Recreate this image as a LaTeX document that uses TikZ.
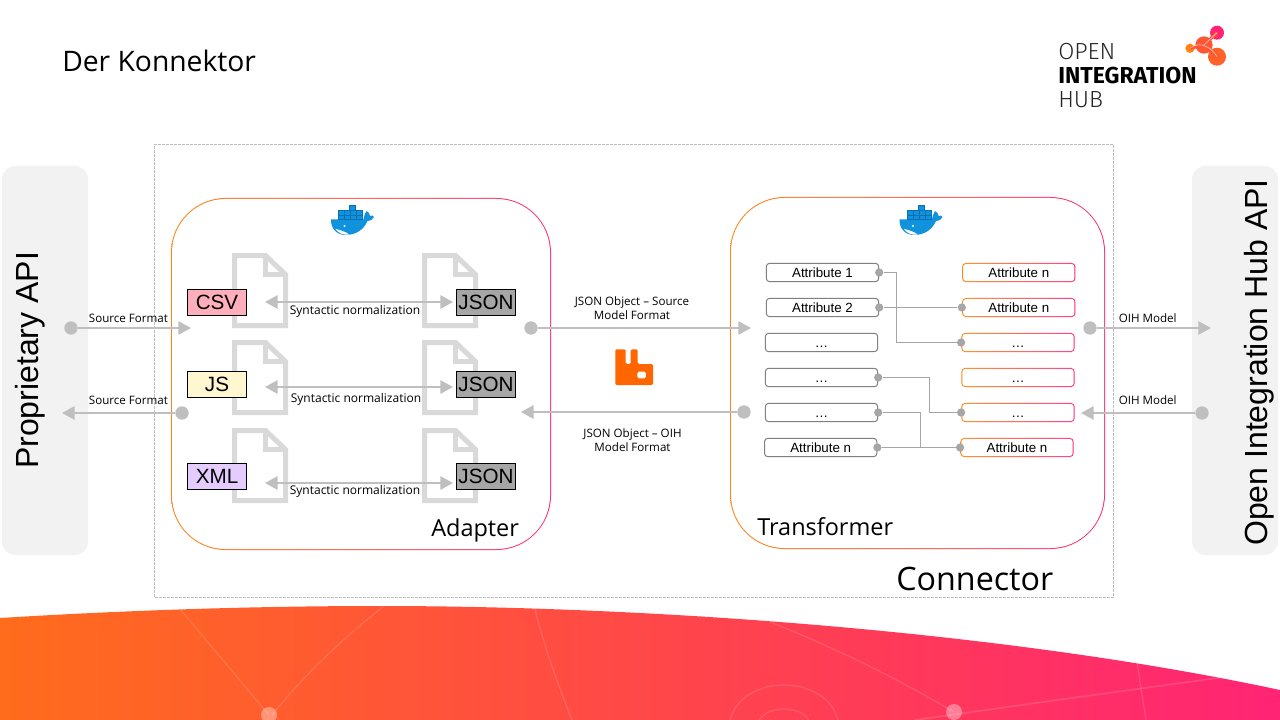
\documentclass[tikz,border=0pt]{standalone}
\usepackage{fontspec}
\setmainfont{Liberation Sans}
\newfontfamily\ui{Open Sans}
\newfontfamily\lgfont{Fira Sans}
\newfontfamily\lgthin{Fira Sans Light}
\usetikzlibrary{arrows.meta,shapes.geometric}
\definecolor{gA}{HTML}{FF8412}
\definecolor{gB}{HTML}{FF2A78}
\definecolor{bA}{HTML}{FF6C1C}
\definecolor{bB}{HTML}{FF2474}
\definecolor{arr}{HTML}{BFBFBF}
\definecolor{wire}{HTML}{A6A6A6}
\definecolor{panel}{HTML}{F2F2F2}
\definecolor{filec}{HTML}{D9D9D9}
\definecolor{dk}{HTML}{1092DC}
\definecolor{dkb}{HTML}{0A6FB5}
\definecolor{rabbitc}{HTML}{FF6600}
\tikzset{
 paneln/.style={fill=panel,rounded corners=10pt,minimum width=64.5pt,minimum height=291.75pt,inner sep=0},
 bigtext/.style={font=\fontsize{24}{24}\selectfont,rotate=90,anchor=base,inner sep=0},
 conbox/.style={draw=arr,line width=.5pt,dash pattern=on .6pt off .4pt},
 contout/.style={left color=gA,right color=gB,rounded corners=41pt,minimum width=285pt,minimum height=264pt,inner sep=0},
 contin/.style={fill=white,rounded corners=40.2pt,minimum width=283.5pt,minimum height=262.5pt,inner sep=0},
 heading/.style={font=\ui\fontsize{17.6}{17.6}\selectfont,anchor=base west,inner sep=0},
 filei/.style={draw=filec,line width=3.75pt,miter limit=10},
 fmt/.style={draw=black,line width=.75pt,minimum width=44.25pt,minimum height=19.75pt,inner sep=0,font=\fontsize{15.5}{15.5}\selectfont},
 lab/.style={font=\ui\fontsize{8.7}{8.7}\selectfont,inner sep=0,align=center},
 synlab/.style={font=\ui\fontsize{9}{9}\selectfont,inner sep=0},
 flow/.style={draw=arr,line width=1.5pt,-{Triangle[width=10pt,length=9.5pt]}},
 flowb/.style={draw=arr,line width=1.5pt,{Triangle[width=10pt,length=9.5pt]}-{Triangle[width=10pt,length=9.5pt]}},
 bigdot/.style={circle,fill=arr,minimum size=10pt,inner sep=0},
 attl/.style={draw=black!50,line width=.75pt,fill=white,rounded corners=2.5pt,minimum width=84.3pt,minimum height=13.8pt,inner sep=0,font=\fontsize{10}{10}\selectfont,text height=7.2pt,text depth=0pt},
 atto/.style={left color=gA,right color=gB,rounded corners=2.8pt,minimum width=85pt,minimum height=14.3pt,inner sep=0},
 atti/.style={fill=white,rounded corners=2.2pt,minimum width=83.5pt,minimum height=12.8pt,inner sep=0,font=\fontsize{10}{10}\selectfont,text height=7.2pt,text depth=0pt},
 smalldot/.style={circle,fill=wire,minimum size=6.2pt,inner sep=0},
 wireline/.style={draw=wire,line width=.75pt},
 docfile/.pic={
  \draw[filei] (2.5,2.5) -- (33.5,2.5) -- (53.5,21.5) -- (53.5,72.5) -- (2.5,72.5) -- cycle;
  \draw[filei] (33.5,2.5) -- (33.5,21.5) -- (53.5,21.5);
 },
 whale/.pic={
  \fill[dk] (.6,14.5) -- (33,14.5) .. controls (33.6,11) and (34.2,8.5) .. (36,6) .. controls (38,7) and (39.6,9) .. (39.6,11) .. controls (41,10) and (43,10.4) .. (43.5,12.2) .. controls (42,15) and (39.5,16) .. (37,16) .. controls (33,25) and (25,30) .. (15,30) .. controls (6,30) and (0,23) .. (.6,14.5) -- cycle;
  \fill[white] (5,24) .. controls (9,25) and (14,26) .. (19,29.6) .. controls (12,30.4) and (8,28) .. (5,24) -- cycle;
  \fill[white] (14,21) circle (1.2);
  \foreach \x/\y in {8/5,14/5,20/5,26/5,8/9.7,14/9.7,20/9.7,26/9.7,19/.2}{
   \fill[dk,draw=dkb,line width=.2pt] (\x,\y) rectangle (\x+6,\y+4.7);
  }
 },
}
\begin{document}
\begin{tikzpicture}[x=.75pt,y=-.75pt]
\useasboundingbox (0,0) rectangle (1280,720);
% bottom band
\begin{scope}
\clip (0,618) .. controls (130,610) and (260,606) .. (380,606) .. controls (640,606) and (1000,630) .. (1280,690) -- (1280,720) -- (0,720) -- cycle;
\shade[left color=bA,right color=bB] (0,600) rectangle (1280,720);
\begin{scope}[draw=white,draw opacity=.14,line width=.9pt]
\draw (269,715) -- (180,609);
\draw (272,715) .. controls (300,680) and (340,640) .. (384,606);
\draw (535,609) .. controls (545,650) and (560,690) .. (572,720);
\draw (770,622) .. controls (840,650) and (900,680) .. (954,712);
\draw (1137,662) -- (1146,720);
\draw[line width=1.2pt] (915,720) .. controls (1020,705) and (1130,690) .. (1225,677);
\draw (784,725) ellipse (54 and 40);
\draw (784,725) ellipse (26 and 16);
\end{scope}
\fill[white,opacity=.35] (269,715) ellipse (8 and 8);
\fill[white,opacity=.35] (954,712) ellipse (8 and 8);
\end{scope}
% title
\node[font=\ui\fontsize{21.2}{21.2}\selectfont,anchor=base west,inner sep=0] (title) at (62,72) {Der Konnektor};
% logo
\node[font=\lgthin\fontsize{17.5}{17.5}\selectfont,anchor=base west,inner sep=0,text=black!85] (lo1) at (1058,59.5) {OPEN};
\node[font=\lgfont\bfseries\fontsize{17.3}{17.3}\selectfont,anchor=base west,inner sep=0] (lo2) at (1058,83.5) {INTEGRATION};
\node[font=\lgthin\fontsize{17.5}{17.5}\selectfont,anchor=base west,inner sep=0,text=black!85] (lo3) at (1058,107.5) {HUB};
\node[circle,fill=bB,minimum size=10.5pt,inner sep=0] (lc1) at (1217,32.7) {};
\node[circle,fill=bA!85!bB,minimum size=13.5pt,inner sep=0] (lc2) at (1217,56.7) {};
\node[circle,fill=gA,minimum size=7pt,inner sep=0] (lc3) at (1190,48.3) {};
\node[circle,fill=bA!70!bB,minimum size=13pt,inner sep=0] (lc4) at (1204,45) {};
\draw[bA!70!bB,line width=2.4pt] (lc3.center) -- (lc4.center) -- (lc1.center);
\draw[bA!70!bB,line width=2.4pt] (lc4.center) -- (lc2.center);
\draw[white,line width=.35pt,opacity=.8] (lc3.center) .. controls (1200,40) and (1212,48) .. (lc2.center);
\draw[white,line width=.35pt,opacity=.8] (lc4.center) -- (lc1.center);
% side panels
\node[paneln] (pl) at (45,360.5) {};
\node[paneln] (pr) at (1235,360.5) {};
\node[bigtext] (plt) at (38,360.5) {Proprietary API};
\node[bigtext] (prt) at (1267,362.5) {Open Integration Hub API};
% connector frame
\draw[conbox] (154.5,144.5) rectangle (1113.5,597.5);
\node[font=\ui\fontsize{24.2}{24.2}\selectfont,anchor=base west,inner sep=0] (conn) at (896,590) {Connector};
% containers
\node[contout] (ad) at (361,374) {};
\node[contin] (adi) at (ad) {};
\node[contout,minimum width=281.25pt] (tr) at (917.5,373) {};
\node[contin,minimum width=279.75pt] (tri) at (tr) {};
\node[heading] (adt) at (431,536) {Adapter};
\node[heading] (trt) at (757,535) {Transformer};
\pic at (330.5,205) {whale};
\pic at (899,205) {whale};
% files
\foreach \x in {232,422}{
 \foreach \y in {253,340,428}{
  \pic at (\x,\y) {docfile};
 }
}
% format boxes
\node[fmt,fill={rgb,255:red,255;green,174;blue,187}] (csv) at (217,302.5) {CSV};
\node[fmt,fill={rgb,255:red,255;green,247;blue,208}] (js) at (217,384.5) {JS};
\node[fmt,fill={rgb,255:red,228;green,204;blue,255}] (xml) at (217,476.5) {XML};
\node[fmt,fill=wire] (j1) at (486,302.3) {JSON};
\node[fmt,fill=wire] (j2) at (486,384.3) {JSON};
\node[fmt,fill=wire] (j3) at (486,476.5) {JSON};
% syntactic arrows
\coordinate (s1a) at (265,302); \coordinate (s1b) at (453,302);
\coordinate (s2a) at (265,387); \coordinate (s2b) at (453,387);
\coordinate (s3a) at (265,483); \coordinate (s3b) at (453,483);
\draw[flowb] (s1a) -- (s1b);
\draw[flowb] (s2a) -- (s2b);
\draw[flowb] (s3a) -- (s3b);
\node[synlab] (sl1) at (355,311) {Syntactic normalization};
\node[synlab] (sl2) at (356,399.5) {Syntactic normalization};
\node[synlab] (sl3) at (355,491) {Syntactic normalization};
% flows
\node[bigdot] (a1) at (71,328) {}; \coordinate (a2) at (191,328);
\draw[flow] (a1) -- (a2);
\node[bigdot] (b1) at (182,413) {}; \coordinate (b2) at (62,413);
\draw[flow] (b1) -- (b2);
\node[bigdot] (c1) at (531,328) {}; \coordinate (c2) at (751,328);
\draw[flow] (c1) -- (c2);
\node[bigdot] (e1) at (744,412) {}; \coordinate (e2) at (521,412);
\draw[flow] (e1) -- (e2);
\node[bigdot] (f1) at (1090,328) {}; \coordinate (f2) at (1211,328);
\draw[flow] (f1) -- (f2);
\node[bigdot] (g1) at (1202,413) {}; \coordinate (g2) at (1081,413);
\draw[flow] (g1) -- (g2);
\node[lab] (al1) at (128.5,318) {Source Format};
\node[lab] (al2) at (128.5,400) {Source Format};
\node[lab] (cl1) at (632,308) {JSON Object – Source\\[2.2pt]Model Format};
\node[lab] (cl2) at (632.5,440) {JSON Object – OIH\\[2.2pt]Model Format};
\node[lab] (fl1) at (1147.7,318) {OIH Model};
\node[lab] (fl2) at (1147.7,400) {OIH Model};
% rabbit
\fill[rabbitc,even odd rule,rounded corners=1pt] (615.3,349.3) -- (625.7,349.3) -- (625.7,364) -- (630.7,364) -- (630.7,349.3) -- (637.7,349.3) -- (637.7,364) -- (653,364) -- (653,385) -- (615.3,385) -- cycle (637.3,371.7) -- (646,371.7) -- (646,378.3) -- (637.3,378.3) -- cycle;
% attributes left
\node[attl] (l1) at (822.5,272.5) {Attribute 1};
\node[attl] (l2) at (822.5,307.5) {Attribute 2};
\node[attl] (l3) at (821.5,342.5) {…};
\node[attl] (l4) at (821.5,377.5) {…};
\node[attl] (l5) at (821.5,412.5) {…};
\node[attl] (l6) at (820.7,447.5) {Attribute n};
% attributes right
\foreach \n/\x/\y/\t in {r1/1018.8/272.5/Attribute n,r2/1018.8/307.5/Attribute n,r3/1018/342.5/…,r4/1018/377.5/…,r5/1018/412.5/…,r6/1017/447.5/Attribute n}{
 \node[atto] (\n o) at (\x,\y) {};
 \node[atti] (\n) at (\x,\y) {\t};
}
% wires
\node[smalldot] (dl1) at (l1.east) {};
\node[smalldot] (dl2) at (l2.east) {};
\node[smalldot] (dl4) at (l4.east) {};
\node[smalldot] (dl5) at (l5.east) {};
\node[smalldot] (dl6) at (l6.east) {};
\node[smalldot] (dr2) at (r2o.west) {};
\node[smalldot] (dr3) at (r3o.west) {};
\node[smalldot] (dr5) at (r5o.west) {};
\node[smalldot] (dr6) at (r6o.west) {};
\draw[wireline] (dl1) -- ++(17,0) |- (dr3);
\draw[wireline] (dl2) -- (dr2);
\draw[wireline] (dl4) -- ++(51,0) |- (dr5);
\draw[wireline] (dl5) -- ++(42,0) |- (dr6);
\draw[wireline] (dl6) -- (dr6);
\end{tikzpicture}
\end{document}
